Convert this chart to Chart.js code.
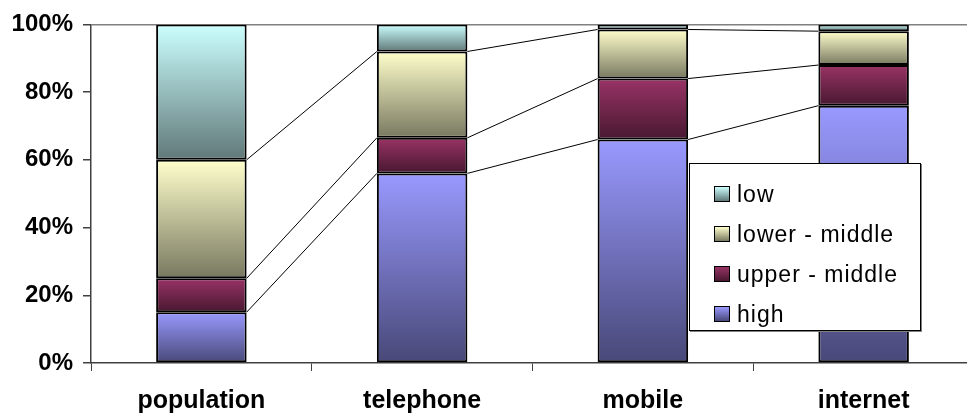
<!DOCTYPE html>
<html>
<head>
<meta charset="utf-8">
<script src="https://cdn.jsdelivr.net/npm/chart.js@4"></script>
<style>
  body { margin: 0; background: #fff; overflow: hidden; }
  #wrap { position: relative; width: 975px; height: 417px; }
  #legend {
    position: absolute; left: 689px; top: 163px; width: 232px; height: 168px;
    background: #fff; border: 1px solid #000; box-shadow: 1px 1px 0 #808080;
    font-family: "Liberation Sans", Arial, sans-serif; font-size: 23px; letter-spacing: 1px;
    padding-top: 10px; box-sizing: border-box;
  }
  #legend .row { height: 40px; display: flex; align-items: center; padding-left: 24px; }
  #legend .sw { width: 14px; height: 14px; border: 1px solid #000; margin-right: 7px; flex: none; }
</style>
</head>
<body>
<div id="wrap">
  <canvas id="chart"></canvas>
  <div id="legend"></div>
</div>
<script>
// data (percent of each column)
const categories = ['population', 'telephone', 'mobile', 'internet'];
const seriesNames = ['high', 'upper - middle', 'lower - middle', 'low'];
const highValues = [15, 56, 66, 76];
const upperMiddleValues = [10, 10.5, 18, 12];
const lowerMiddleValues = [35, 25.5, 14.5, 10];
const lowValues = [40, 8, 1.5, 2];
const yTickLabels = ['0%', '20%', '40%', '60%', '80%', '100%'];

const allValues = [highValues, upperMiddleValues, lowerMiddleValues, lowValues];
// light top -> dark bottom, like the old excel fill
const shades = [
  ['#9999FF', '#484878'],
  ['#993366', '#481830'],
  ['#FFFFCC', '#787860'],
  ['#CCFFFF', '#607878'],
];

const segFill = (di) => (c) => {
  const chart = c.chart;
  if (c.type !== 'data' || !chart.chartArea) return shades[di][0];
  const y = chart.scales.y;
  let base = 0;
  for (let k = 0; k < di; k++) base += allValues[k][c.dataIndex];
  const top = base + allValues[di][c.dataIndex];
  const g = chart.ctx.createLinearGradient(0, y.getPixelForValue(top), 0, y.getPixelForValue(base));
  g.addColorStop(0, shades[di][0]);
  g.addColorStop(1, shades[di][1]);
  return g;
};

// thin lines joining segment tops from one column to the next
const joinLines = {
  id: 'joinLines',
  afterDatasetsDraw(chart) {
    const ctx = chart.ctx;
    ctx.save();
    ctx.strokeStyle = '#000';
    ctx.lineWidth = 1;
    for (let d = 0; d < 3; d++) {
      const bars = chart.getDatasetMeta(d).data;
      for (let j = 0; j < bars.length - 1; j++) {
        const a = bars[j], b = bars[j + 1];
        ctx.beginPath();
        ctx.moveTo(a.x + a.width / 2, a.y);
        ctx.lineTo(b.x - b.width / 2, b.y);
        ctx.stroke();
      }
    }
    ctx.restore();
  }
};

new Chart(document.getElementById('chart').getContext('2d'), {
  type: 'bar',
  data: {
    labels: categories,
    datasets: allValues.map((vals, i) => ({
      label: seriesNames[i],
      data: vals,
      backgroundColor: segFill(i),
      borderColor: '#000',
      borderWidth: 2,
      borderSkipped: false,
      barPercentage: 0.41,
      categoryPercentage: 1,
    })),
  },
  options: {
    responsive: true,
    maintainAspectRatio: false,
    animation: false,
    layout: { padding: { left: 0, top: 24, right: 1, bottom: 0 } },
    plugins: { legend: { display: false }, tooltip: { enabled: false } },
    scales: {
      x: {
        stacked: true,
        afterFit: (s) => { s.height = 54; },
        grid: { display: true, drawOnChartArea: false, offset: true, tickLength: 8, tickColor: '#404040' },
        border: { color: '#404040', width: 1.5 },
        ticks: { color: '#000', padding: 15, font: { family: 'Liberation Sans', weight: 'bold', size: 25 } },
      },
      y: {
        stacked: true,
        min: 0,
        max: 100,
        afterFit: (s) => { s.width = 91; },
        grid: {
          color: (c) => (c.tick && c.tick.value === 100 ? '#808080' : 'transparent'),
          tickColor: '#404040',
          tickLength: 8,
          lineWidth: 1.5,
        },
        border: { color: '#404040', width: 1.5 },
        ticks: {
          stepSize: 20,
          color: '#000',
          padding: 10,
          font: { family: 'Liberation Sans', weight: 'bold', size: 24 },
          callback: (v, i) => yTickLabels[i],
        },
      },
    },
  },
  plugins: [joinLines],
});

// legend box, reversed like the original
const legend = document.getElementById('legend');
for (let i = seriesNames.length - 1; i >= 0; i--) {
  const row = document.createElement('div');
  row.className = 'row';
  const sw = document.createElement('span');
  sw.className = 'sw';
  sw.style.background = 'linear-gradient(' + shades[i][0] + ', ' + shades[i][1] + ')';
  const txt = document.createElement('span');
  txt.textContent = seriesNames[i];
  row.appendChild(sw);
  row.appendChild(txt);
  legend.appendChild(row);
}
</script>
</body>
</html>
